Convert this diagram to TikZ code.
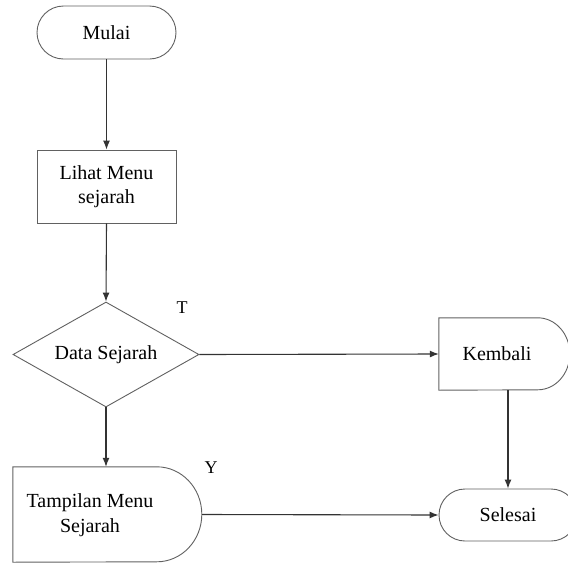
\documentclass[tikz,border=0pt]{standalone}
\usepackage{fontspec}
\setmainfont{Liberation Serif}
\usetikzlibrary{arrows.meta,shapes.geometric,shapes.misc}
\begin{document}
\begin{tikzpicture}[x=1pt,y=1pt,
  shapeline/.style={draw=black!62, line width=0.9pt},
  conn/.style={draw=black!80, line width=1.1pt, -{Latex[length=9pt,width=7pt]}},
  lbl/.style={font=\fontsize{20}{24.5}\selectfont, align=center, inner sep=0pt},
  yesno/.style={font=\fontsize{18}{22}\selectfont, inner sep=0pt}]
\useasboundingbox[fill=white] (0,0) rectangle (568,-563);
% start
\node[shapeline, rounded rectangle, minimum width=139pt, minimum height=53pt, lbl] (mulai) at (106.5,-32.5) {Mulai};
% process
\node[shapeline, rectangle, minimum width=139pt, minimum height=73pt, lbl] (lihat) at (106.5,-186.5) {Lihat Menu\\sejarah};
% decision
\node[shapeline, diamond, aspect=1.77, minimum width=186pt, minimum height=105pt, lbl] (data) at (106,-354.5) {Data Sejarah};
% display (delay shape) Tampilan
\node[minimum width=189pt, minimum height=95pt, inner sep=0pt] (tampil) at (107.5,-514.5) {};
\draw[shapeline] (tampil.south west) -- (tampil.north west) -- ++(144,0)
  arc[start angle=90, end angle=-90, x radius=45, y radius=47.5] -- cycle;
\node[lbl] (tampiltxt) at (90,-515) {Tampilan Menu\\Sejarah};
% Kembali
\node[minimum width=131pt, minimum height=72pt, inner sep=0pt] (kembali) at (504.5,-354) {};
\draw[shapeline] (kembali.south west) -- (kembali.north west) -- ++(99,0)
  arc[start angle=90, end angle=-90, x radius=32, y radius=36] -- cycle;
\node[lbl] (kembalitxt) at (497,-354) {Kembali};
% end
\node[shapeline, rounded rectangle, minimum width=138pt, minimum height=52pt, lbl] (selesai) at (508,-515) {Selesai};
% labels
\node[yesno] (tlabel) at (182,-308) {T};
\node[yesno] (ylabel) at (211,-468) {Y};
% connectors
\draw[conn] (mulai.south) -- (lihat.north);
\draw[conn] (lihat.south) -- (data.north);
\draw[conn] (data.east) -- (kembali.west);
\draw[conn] (data.south) -- (data.south |- tampil.north);
\draw[conn] (kembali.south -| selesai.north) -- (selesai.north);
\draw[conn] (tampil.east) -- (selesai.west);
\end{tikzpicture}
\end{document}
